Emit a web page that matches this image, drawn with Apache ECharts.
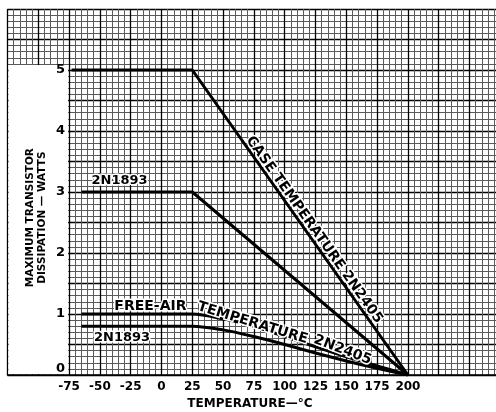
<!DOCTYPE html>
<html>
<head>
<meta charset="utf-8">
<script src="https://cdn.jsdelivr.net/npm/echarts@6/dist/echarts.min.js"></script>
<style>
html, body { margin: 0; padding: 0; background: #fff; }
#main { width: 496px; height: 412px; }
</style>
</head>
<body>
<div id="main"></div>
<script>
// Values: temperature in °C, power in W
const case2N2405 = [[-73, 5], [25, 5], [200, 0]];
const case2N1893 = [[-65, 3], [25, 3], [200, 0]];
const freeAirTemps = [-65, 25, 50, 75, 100, 125, 150, 175, 200];
const freeAir2N2405 = [1, 1, 0.92, 0.8, 0.63, 0.46, 0.3, 0.15, 0];
const freeAir2N1893 = [0.8, 0.8, 0.74, 0.63, 0.5, 0.36, 0.23, 0.11, 0];
const xTicks = [-75, -50, -25, 0, 25, 50, 75, 100, 125, 150, 175, 200];
const yTicks = [0, 1, 2, 3, 4, 5];

const FONT = 'DejaVu Sans';

const chart = echarts.init(document.getElementById('main'));

// graph paper: heavy lines every 25 °C / 0.5 W, light every 5 °C / 0.1 W
const heavy = { show: true, lineStyle: { color: '#000', width: 1.3 } };
const light = { show: true, lineStyle: { color: '#5a5a5a', width: 1 } };

const lineSeries = (data) => ({
    type: 'line',
    data: data,
    xAxisIndex: 0,
    yAxisIndex: 0,
    symbol: 'none',
    z: 3,
    lineStyle: { color: '#000', width: 3 }
});

const option = {
    animation: false,
    backgroundColor: '#fff',
    grid: { left: 7.5, width: 492.8, top: 9, height: 366, outerBoundsMode: 'none' },
    xAxis: [
        {
            type: 'value', min: -125, max: 275, interval: 25, z: 0,
            axisLine: { show: true, onZero: false, lineStyle: { color: '#000', width: 1.5 } },
            axisTick: { show: false },
            axisLabel: { show: false },
            splitLine: heavy,
            minorTick: { show: false, splitNumber: 5 },
            minorSplitLine: light
        },
        {
            type: 'value', min: -125, max: 275, interval: 25, position: 'bottom', z: 5,
            axisLine: { show: false, onZero: false },
            axisTick: { show: false },
            splitLine: { show: false },
            axisLabel: {
                margin: 6, color: '#000', fontFamily: FONT, fontWeight: 'bold', fontSize: 12,
                formatter: v => xTicks.includes(v) ? String(v) : ''
            },
            name: 'TEMPERATURE—°C',
            nameLocation: 'middle',
            nameGap: 21,
            nameTextStyle: { color: '#000', fontFamily: FONT, fontWeight: 'bold', fontSize: 12, padding: [0, 8, 0, 0] }
        }
    ],
    yAxis: [
        {
            type: 'value', min: 0, max: 6, interval: 0.5, z: 0,
            axisLine: { show: false, onZero: false },
            axisTick: { show: false },
            axisLabel: { show: false },
            splitLine: heavy,
            minorTick: { show: false, splitNumber: 5 },
            minorSplitLine: light
        },
        {
            type: 'value', min: 0, max: 6, interval: 1, position: 'left', offset: -61.5, z: 5,
            axisLine: { show: false, onZero: false },
            axisTick: { show: false },
            splitLine: { show: false },
            axisLabel: {
                margin: 4, color: '#000', fontFamily: FONT, fontWeight: 'bold', fontSize: 13,
                verticalAlignMinLabel: 'bottom',
                formatter: v => yTicks.includes(v) ? String(v) : ''
            }
        }
    ],
    series: [
        lineSeries(case2N2405),
        lineSeries(case2N1893),
        Object.assign(lineSeries(freeAirTemps.map((t, i) => [t, freeAir2N2405[i]])), { smooth: 0.3 }),
        Object.assign(lineSeries(freeAirTemps.map((t, i) => [t, freeAir2N1893[i]])), { smooth: 0.3 })
    ]
};

chart.setOption(option);

// white panel left of the plot, and the curve captions
const px = (x, y) => chart.convertToPixel({ xAxisIndex: 0, yAxisIndex: 0 }, [x, y]);
const tl = px(-125, 5.1);
const br = px(-75, 0);

const notes = [
    { text: 'CASE TEMPERATURE 2N2405', at: [124, 2.38], rot: -54.6, size: 14 },
    { text: '2N1893', at: [-34, 3.18], rot: 0, size: 13 },
    { text: 'FREE-AIR', at: [-9, 1.13], rot: 0, size: 14 },
    { text: 'TEMPERATURE', at: [74, 0.85], rot: -17, size: 14 },
    { text: '2N2405', at: [147, 0.41], rot: -21, size: 14 },
    { text: '2N1893', at: [-32, 0.62], rot: 0, size: 13 }
];

const graphics = [{
    type: 'rect', z: 1,
    shape: { x: tl[0] + 1, y: tl[1] + 1, width: br[0] - tl[0] - 2, height: br[1] - tl[1] - 2 },
    style: { fill: '#fff' }
}];

notes.forEach(n => {
    const p = px(n.at[0], n.at[1]);
    graphics.push({
        type: 'text', z: 10, x: p[0], y: p[1], rotation: n.rot * Math.PI / 180,
        style: {
            text: n.text, fill: '#000', font: `bold ${n.size}px "${FONT}"`,
            align: 'center', verticalAlign: 'middle',
            stroke: '#fff', lineWidth: 3, strokeFirst: true
        }
    });
});

// y axis title, two rotated lines
const midY = px(0, 2.58)[1];
[['MAXIMUM TRANSISTOR', 30], ['DISSIPATION — WATTS', 42]].forEach(([t, x]) => {
    graphics.push({
        type: 'text', z: 10, x: x, y: midY, rotation: Math.PI / 2,
        style: {
            text: t, fill: '#000', font: `bold 10.5px "${FONT}"`,
            align: 'center', verticalAlign: 'middle'
        }
    });
});

chart.setOption({ graphic: graphics });
</script>
</body>
</html>
